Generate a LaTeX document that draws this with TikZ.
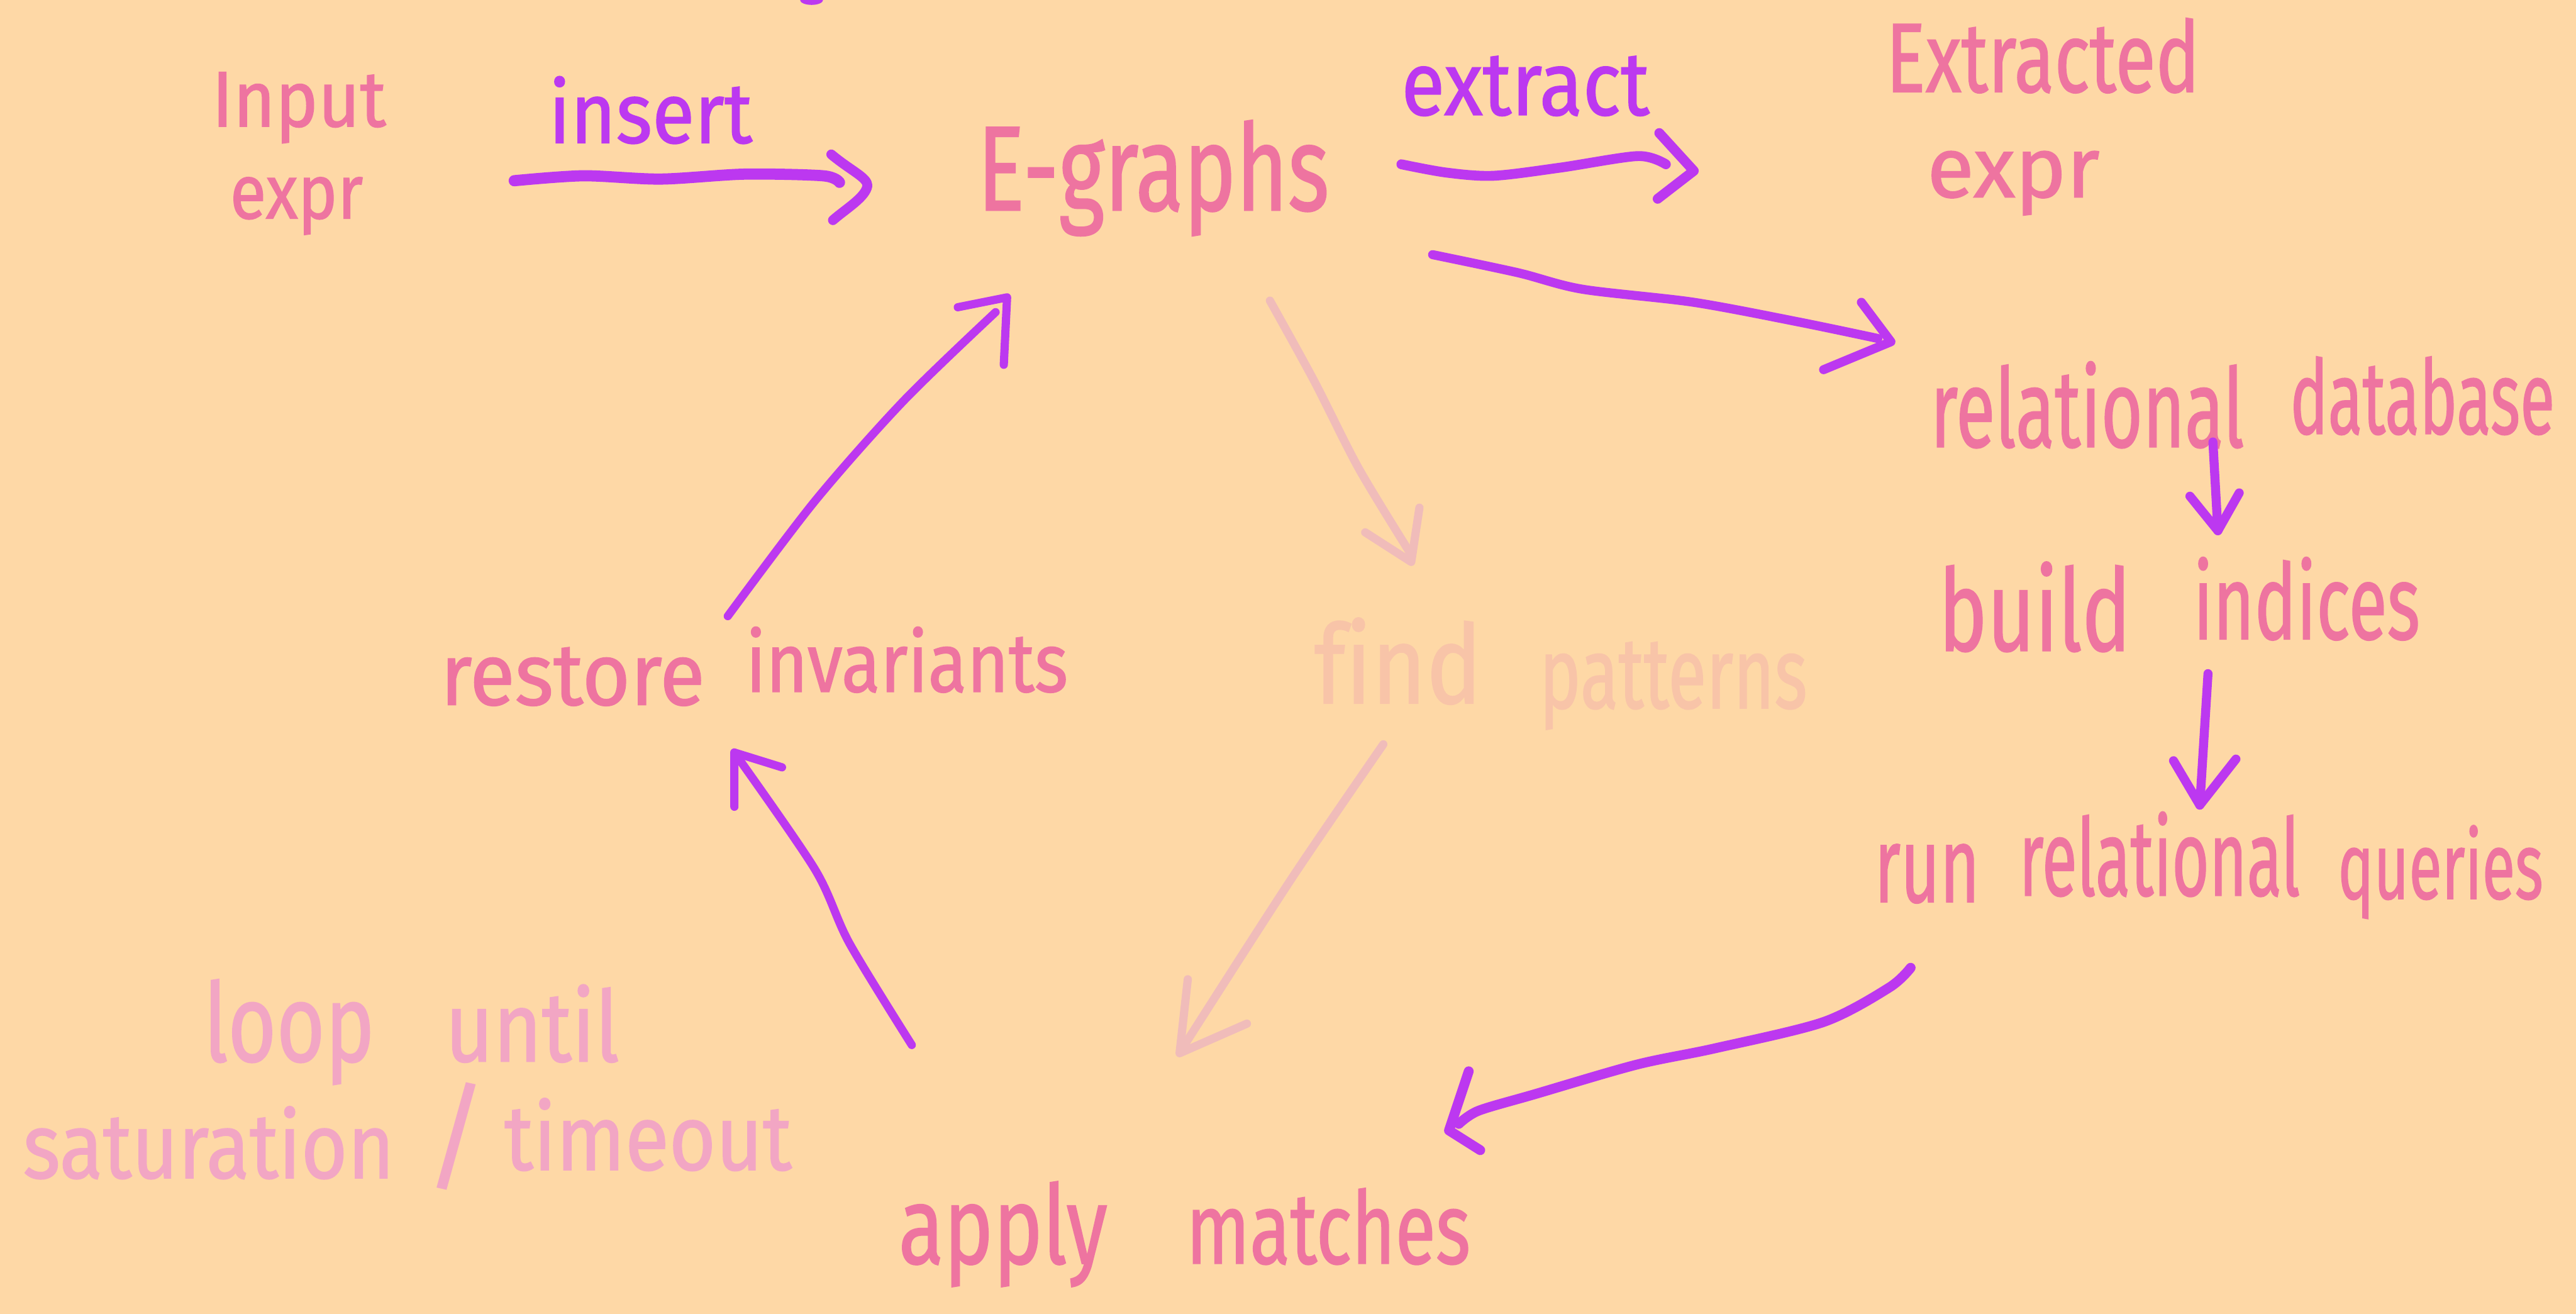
\documentclass[tikz,border=0pt]{standalone}
\usepackage{fontspec}
\usepackage{graphicx}
\newfontfamily\hand[FakeBold=1.2, Ligatures=NoCommon]{Fira Sans}
\newfontfamily\handlight{Fira Sans}
\newdimen\hwu \hwu=0.1mm
% one handwritten word, squeezed to a given width and to a given height of an 'l' (in 0.1mm units)
\newcommand\hw[3]{\resizebox{#1\hwu}{#2\hwu}{\hand\vphantom{l}\smash{#3}}}
\definecolor{paper}{HTML}{FED8A6}
\definecolor{ink}{HTML}{EE74A0}
\definecolor{vio}{HTML}{BC38F0}
\definecolor{faint}{HTML}{F0BCBA}
\definecolor{peach}{HTML}{F8C4A8}
\definecolor{loopc}{HTML}{F2A6C4}
\begin{document}
\begin{tikzpicture}[x=0.1mm,y=-0.1mm,
  lbl/.style={inner sep=0pt, outer sep=0pt, anchor=base west, text=ink},
  conn/.style={draw=vio, line width=0.6mm, line cap=round, line join=round},
  thin conn/.style={conn, line width=0.5mm},
  ghost/.style={draw=faint, line width=0.5mm, line cap=round, line join=round}]
\fill[paper] (0,0) rectangle (1568,799.65);
\useasboundingbox (0,0) rectangle (1568,799.65);

% ---- labels ----
\node[lbl] (inputA) at (129,77) {\hw{106}{36}{Input}};
\node[lbl] (inputB) at (140,133) {\hw{81}{35}{expr}};
\node[lbl, text=vio] (insertL) at (334,87) {\hw{124}{39}{insert}};
\node[lbl] (egraph) at (595,128) {\hw{214}{55}{E-graphs}};
\node[lbl, text=vio] (extractL) at (853,70) {\hw{151}{41}{extract}};
\node[lbl] (extrA) at (1148,56) {\hw{191}{45}{Extracted}};
\node[lbl] (extrB) at (1173,120) {\hw{105}{39}{expr}};
\node[lbl] (reldbA) at (1175,272) {\hw{191}{50}{relational}};
\node[lbl] (reldbB) at (1394,264) {\hw{161}{47}{database}};
\node[lbl] (buildA) at (1180,396) {\hw{117}{52}{build}};
\node[lbl] (buildB) at (1335,389) {\hw{138}{48}{indices}};
\node[lbl] (runA) at (1141,549) {\hw{64}{49}{run}};
\node[lbl] (runB) at (1229,545) {\hw{171}{49}{relational}};
\node[lbl] (runC) at (1423,547) {\hw{125}{43}{queries}};
\node[lbl] (applyA) at (547,769) {\hw{127}{50}{apply}};
\node[lbl] (applyB) at (722,769) {\hw{173}{46}{matches}};
\node[lbl] (restA) at (268,429) {\hw{161}{40}{restore}};
\node[lbl] (restB) at (454,421) {\hw{196}{38}{invariants}};
\node[lbl, text=peach] (findA) at (800,428) {\hw{102}{50}{find}};
\node[lbl, text=peach] (findB) at (937,431) {\hw{163}{46}{patterns}};
\node[lbl, text=loopc] (loopA) at (124,646) {\hw{104}{50}{loop}};
\node[lbl, text=loopc] (loopB) at (271,646) {\hw{106}{45}{until}};
\node[lbl, text=loopc] (loopC) at (14,717) {\hw{226}{42}{saturation}};
\node[lbl, text=loopc] (loopD) at (258,717) {\resizebox{40\hwu}{58\hwu}{\handlight /}};
\node[lbl, text=loopc] (loopE) at (307,712) {\hw{175}{42}{timeout}};

% stray pen mark at the top edge
\fill[vio] (494,0) ellipse [x radius=0.7mm, y radius=0.3mm];

% ---- connector end points ----
\coordinate (insS) at (313,110);  \coordinate (insT) at (528,113);
\coordinate (extS) at (853,100);  \coordinate (extT) at (1031,104);
\coordinate (relS) at (872,155);  \coordinate (relT) at (1151,208);
\coordinate (d1S) at (1347,269);  \coordinate (d1T) at (1350,323);
\coordinate (d2S) at (1344,410);  \coordinate (d2T) at (1339,490);
\coordinate (qS) at (1163,589);   \coordinate (qT) at (882,688);
\coordinate (rS) at (443,375);    \coordinate (rT) at (613,181);
\coordinate (aS) at (555,636);    \coordinate (aT) at (447,458);
\coordinate (f1S) at (773,183);   \coordinate (f1T) at (859,342);
\coordinate (f2S) at (842,453);   \coordinate (f2T) at (718,641);

% insert
\draw[conn, line width=0.68mm] plot[smooth] coordinates {(insS) (355,107) (402,109) (453,106) (501,107) (511,111)};
\draw[conn] (506,94) .. controls (518,104) and (528,108) .. (insT) .. controls (527,120) and (515,127) .. (507,134);
% extract
\draw[conn] plot[smooth] coordinates {(extS) (880,105) (909,107) (950,102) (997,95) (1014,100)};
\draw[conn] (1010,81) -- (extT) -- (1009,121);
% E-graphs -> relational database
\draw[conn, line width=0.55mm] plot[smooth] coordinates {(relS) (924,166) (963,176) (1031,184) (1095,196) (1143,206)};
\draw[conn, line width=0.55mm] (1133,184) -- (relT) -- (1110,225);
% relational database -> build indices
\draw[conn, line width=0.55mm] (d1S) -- (d1T);
\draw[conn, line width=0.55mm] (1333,302) -- (d1T) -- (1363,300);
% build indices -> run relational queries
\draw[conn, line width=0.55mm] (d2S) -- (d2T);
\draw[conn, line width=0.55mm] (1323,463) -- (d2T) -- (1361,462);
% run relational queries -> apply matches
\draw[conn] plot[smooth] coordinates {(qS) (1150,601) (1110,622) (1044,638) (996,648) (934,666) (900,676) (888,684)};
\draw[conn] (894,652) -- (qT) -- (901,700);
% restore invariants -> E-graphs
\draw[thin conn] plot[smooth] coordinates {(rS) (496,305) (550,244) (606,190)};
\draw[thin conn] (583,187) -- (rT) -- (611,222);
% apply matches -> restore invariants
\draw[thin conn] plot[smooth] coordinates {(aS) (517,574) (496,529) (aT)};
\draw[thin conn] (447,491) -- (aT) -- (476,467);
% faded path through find patterns
\draw[ghost] plot[smooth] coordinates {(f1S) (800,232) (827,285) (858,336)};
\draw[ghost] (831,324) -- (f1T) -- (864,309);
\draw[ghost] plot[smooth] coordinates {(f2S) (786,535) (721,636)};
\draw[ghost] (723,596) -- (f2T) -- (759,623);
\end{tikzpicture}
\end{document}
